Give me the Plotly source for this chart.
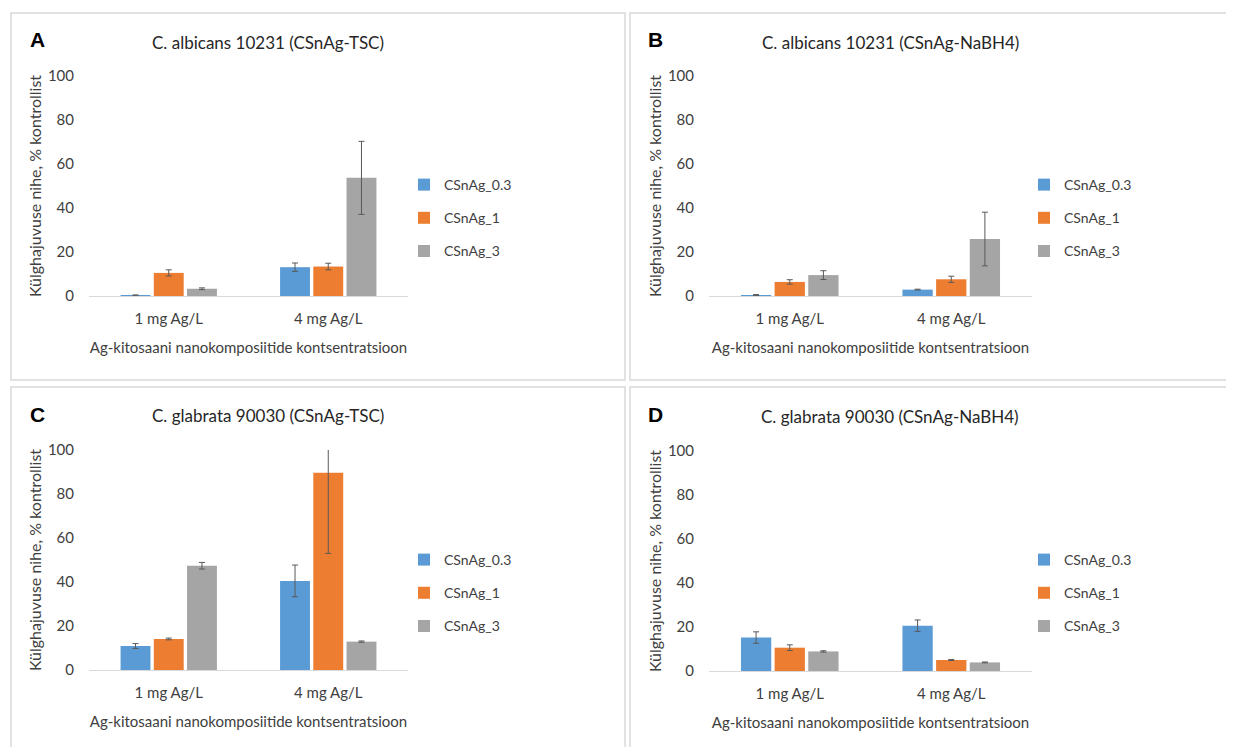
import plotly.graph_objects as go

W, H = 1234, 747
OFF = 8  # the page shows the figure shifted by the body margin

categories = ["1 mg Ag/L", "4 mg Ag/L"]
series_names = ["CSnAg_0.3", "CSnAg_1", "CSnAg_3"]
series_colors = ["#5B9BD5", "#ED7D31", "#A5A5A5"]

# Panel A: C. albicans 10231 (CSnAg-TSC)
a_03 = [0.3, 13.1]
a_03_err = [0.2, 1.9]
a_1 = [10.5, 13.4]
a_1_err = [1.4, 1.5]
a_3 = [3.3, 53.7]
a_3_err = [0.4, 16.6]

# Panel B: C. albicans 10231 (CSnAg-NaBH4)
b_03 = [0.45, 2.9]
b_03_err = [0.2, 0.2]
b_1 = [6.4, 7.6]
b_1_err = [1.0, 1.4]
b_3 = [9.5, 25.9]
b_3_err = [2.0, 12.2]

# Panel C: C. glabrata 90030 (CSnAg-TSC)
c_03 = [10.9, 40.5]
c_03_err = [1.1, 7.2]
c_1 = [14.1, 89.7]
c_1_err = [0.4, 36.7]
c_3 = [47.4, 12.9]
c_3_err = [1.5, 0.3]

# Panel D: C. glabrata 90030 (CSnAg-NaBH4)
d_03 = [15.2, 20.6]
d_03_err = [2.6, 2.6]
d_1 = [10.6, 5.0]
d_1_err = [1.3, 0.2]
d_3 = [8.9, 3.9]
d_3_err = [0.3, 0.2]

panel_titles = [
    "C. albicans 10231 (CSnAg-TSC)",
    "C. albicans 10231 (CSnAg-NaBH4)",
    "C. glabrata 90030 (CSnAg-TSC)",
    "C. glabrata 90030 (CSnAg-NaBH4)",
]
panel_letters = ["A", "B", "C", "D"]
y_title = "Külghajuvuse nihe, % kontrollist"
x_title = "Ag-kitosaani nanokomposiitide kontsentratsioon"
y_ticks = [0, 20, 40, 60, 80, 100]

panels = [
    ([a_03, a_1, a_3], [a_03_err, a_1_err, a_3_err]),
    ([b_03, b_1, b_3], [b_03_err, b_1_err, b_3_err]),
    ([c_03, c_1, c_3], [c_03_err, c_1_err, c_3_err]),
    ([d_03, d_1, d_3], [d_03_err, d_1_err, d_3_err]),
]

# layout geometry (page pixels)
plot_boxes = [  # x0, x1, ytop, ybottom
    (89, 408, 76, 296),
    (709, 1032, 76, 296),
    (89, 408, 450, 670),
    (709, 1032, 451, 671),
]
title_pos = [(268, 42), (890, 42), (268, 415), (890, 416)]
letter_pos = [(37, 40), (655, 40), (37, 414), (655, 414)]
legend_pos = [(404, 218), (1024, 218), (404, 593), (1024, 593)]
frames = [(11, 625, 13, 380), (630, 1250, 13, 380), (11, 625, 387, 770), (630, 1250, 387, 770)]


def px(x):
    return (x - OFF) / W


def py(y):
    return 1 - (y - OFF) / H


FONT = "Lato"
TXT = "#404040"

fig = go.Figure()
layout = dict(
    width=W, height=H,
    margin=dict(l=0, r=0, t=0, b=0, autoexpand=False),
    paper_bgcolor="white", plot_bgcolor="white",
    barmode="group", bargap=0.375, bargroupgap=0.1,
    font=dict(family=FONT, color=TXT, size=14),
    showlegend=True,
    annotations=[], shapes=[],
)

for i, (vals, errs) in enumerate(panels):
    n = "" if i == 0 else str(i + 1)
    xa, ya = "x" + n, "y" + n
    lg = "legend" + n
    for s in range(3):
        fig.add_trace(go.Bar(
            x=categories, y=vals[s], name=series_names[s],
            marker=dict(color=series_colors[s], line=dict(width=0)),
            error_y=dict(type="data", array=errs[s], color="#595959", thickness=1, width=3),
            xaxis=xa, yaxis=ya, legend=lg, legendgroup=f"{i}_{s}",
        ))
    x0, x1, yt, yb = plot_boxes[i]
    layout["xaxis" + n] = dict(
        domain=[px(x0), px(x1)], anchor=ya, automargin=False,
        showline=True, linecolor="#D9D9D9", linewidth=1,
        showgrid=False, ticks="", zeroline=False, ticklabelstandoff=9,
        tickfont=dict(size=15, color=TXT, family=FONT),
        title=dict(text=x_title, font=dict(size=15, color=TXT, family=FONT), standoff=16),
    )
    layout["yaxis" + n] = dict(
        domain=[py(yb), py(yt)], anchor=xa, automargin=False,
        range=[0, 100], tickvals=y_ticks, showgrid=False, zeroline=False,
        showline=False, ticks="", ticklabelstandoff=14,
        tickfont=dict(size=15, color=TXT, family=FONT),
        title=dict(text=y_title, font=dict(size=16, color=TXT, family=FONT), standoff=2),
    )
    lx, ly = legend_pos[i]
    layout[lg] = dict(
        x=px(lx), y=py(ly), xanchor="left", yanchor="middle",
        xref="paper", yref="paper",
        font=dict(size=14, color=TXT, family=FONT),
        traceorder="grouped", tracegroupgap=12, bgcolor="rgba(0,0,0,0)",
        itemwidth=30,
    )
    tx, ty = title_pos[i]
    layout["annotations"].append(dict(
        text=panel_titles[i], x=px(tx), y=py(ty), xref="paper", yref="paper",
        xanchor="center", yanchor="middle", showarrow=False,
        font=dict(size=17, color="#262626", family=FONT),
    ))
    lx2, ly2 = letter_pos[i]
    layout["annotations"].append(dict(
        text="<b>" + panel_letters[i] + "</b>", x=px(lx2), y=py(ly2), xref="paper", yref="paper",
        xanchor="center", yanchor="middle", showarrow=False,
        font=dict(size=21, color="black", family="Liberation Sans"),
    ))
    fx0, fx1, fy0, fy1 = frames[i]
    layout["shapes"].append(dict(
        type="rect", xref="paper", yref="paper",
        x0=px(fx0), x1=px(fx1), y0=py(fy0), y1=py(fy1),
        line=dict(color="#D9D9D9", width=1.5), fillcolor="rgba(0,0,0,0)", layer="below",
    ))

fig.update_layout(**layout)
fig.write_html("out.html")
